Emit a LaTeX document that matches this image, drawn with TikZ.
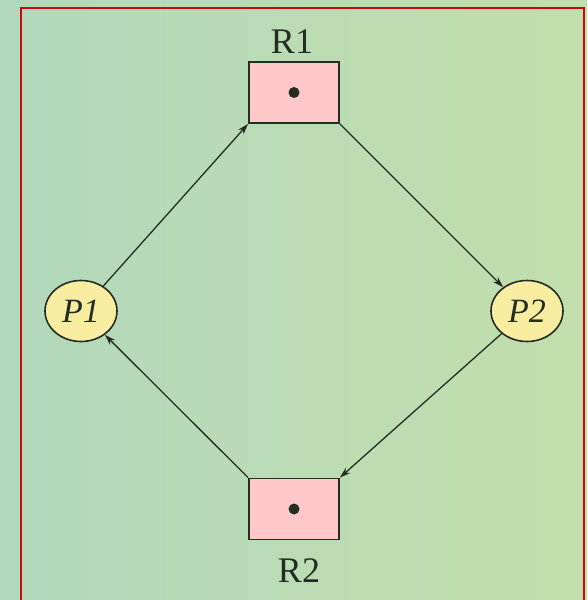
\documentclass[tikz,border=0pt]{standalone}
\usepackage{fontspec}
\setmainfont{Liberation Serif}
\usetikzlibrary{shapes.geometric,arrows.meta}
\definecolor{bgA}{RGB}{178,216,188}
\definecolor{bgB}{RGB}{194,222,172}
\definecolor{frame}{RGB}{200,10,10}
\definecolor{resfill}{RGB}{255,200,200}
\definecolor{procfill}{RGB}{248,236,160}
\definecolor{ink}{RGB}{35,45,35}
\tikzset{
  resbox/.style={draw=ink, line width=1.8pt, fill=resfill, minimum width=90pt, minimum height=61pt, inner sep=0pt},
  proc/.style={ellipse, draw=ink, line width=1.6pt, fill=procfill, minimum width=72pt, minimum height=61pt, inner sep=0pt, text=ink, font=\fontsize{34}{34}\selectfont\itshape},
  lab/.style={text=ink, font=\fontsize{36}{36}\selectfont, inner sep=0pt},
  dotmark/.style={circle, fill=ink, minimum size=11pt, inner sep=0pt},
  conn/.style={draw=ink, line width=1.3pt, -{Stealth[length=11pt,width=7pt]}}
}
\begin{document}
\begin{tikzpicture}[x=1pt,y=-1pt]
\useasboundingbox (0,0) rectangle (587,600);
\shade[left color=bgA, right color=bgB] (0,0) rectangle (587,600);
\draw[frame, line width=2.5pt] (21,606) -- (21,8) -- (584,8) -- (584,606);
\node[resbox] (R1) at (294,92.5) {};
\node[dotmark] (d1) at (R1.center) {};
\node[lab] (R1lab) at (292,42) {R1};
\node[resbox] (R2) at (294,509) {};
\node[dotmark] (d2) at (R2.center) {};
\node[lab] (R2lab) at (299,571) {R2};
\node[proc] (P1) at (81,311) {P1};
\node[proc] (P2) at (527,311) {P2};
\draw[conn] (P1) -- (R1.south west);
\draw[conn] (R1.south east) -- (P2);
\draw[conn] (P2) -- (R2.north east);
\draw[conn] (R2.north west) -- (P1);
\end{tikzpicture}
\end{document}
